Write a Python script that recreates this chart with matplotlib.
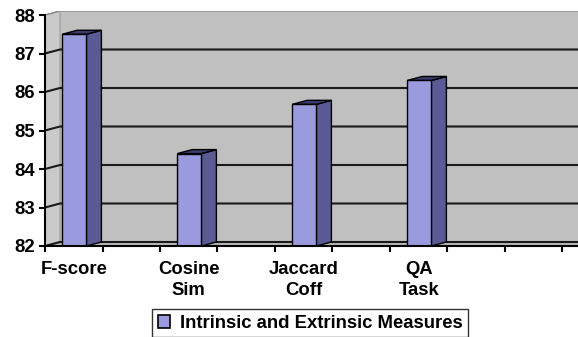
import numpy as np
import matplotlib
matplotlib.use("Agg")
import matplotlib.pyplot as plt
from matplotlib.patches import Polygon, Patch

plt.rcParams['font.family'] = ['Liberation Sans', 'DejaVu Sans']

# Data
categories = ["F-score", "Cosine\nSim", "Jaccard\nCoff", "QA\nTask"]
values = [87.5, 84.4, 85.68, 86.3]
series_name = "Intrinsic and Extrinsic Measures"
y_ticks = [82, 83, 84, 85, 86, 87, 88]

# Layout / style
W, H, DPI = 578, 337, 100
n_slots = 9            # category slots on the axis (labels on every other slot)
slot_step = 2
bar_width = 0.42
depth_px = (15, 4)     # 3-D depth offset in pixels (right, up)
ymin, ymax = 82, 88
fs = 13.3

front_col = "#9a9ade"
side_col = "#5a5a94"
top_col = "#3c3c70"
wall_col = "#c0c0c0"
side_wall_col = "#cacaca"
floor_col = "#b8b8b8"
grid_col = "#1a1a1a"

fig = plt.figure(figsize=(W / DPI, H / DPI), dpi=DPI)
ax_l, ax_r, ax_b, ax_t = 45, 578, 246, 11
ax = fig.add_axes([ax_l / W, 1 - ax_b / H, (ax_r - ax_l) / W, (ax_b - ax_t) / H])

px_per_x = 57.5
px_per_y = (ax_b - ax_t) / (ymax - ymin + depth_px[1] / 38.5)
xmax = (ax_r - ax_l) / px_per_x
dx = depth_px[0] / px_per_x
dy = depth_px[1] / px_per_y
ax.set_xlim(0, xmax)
ax.set_ylim(ymin, ymax + dy)
ax.set_facecolor("white")

# Walls and floor
ax.add_patch(Polygon([(dx, ymin + dy), (xmax + 1, ymin + dy), (xmax + 1, ymax + dy), (dx, ymax + dy)],
                     closed=True, fc=wall_col, ec="none", zorder=0))
ax.add_patch(Polygon([(0, ymin), (dx, ymin + dy), (dx, ymax + dy), (0, ymax)],
                     closed=True, fc=side_wall_col, ec="#9a9a9a", lw=0.8, zorder=0.5))
ax.add_patch(Polygon([(0, ymin), (xmax + 1, ymin), (xmax + 1 + dx, ymin + dy), (dx, ymin + dy)],
                     closed=True, fc=floor_col, ec="none", zorder=0.5))

# Gridlines on the back wall, continued across the side wall
for v in y_ticks:
    ax.plot([0, dx, xmax + 1], [v, v + dy, v + dy], color=grid_col if v != ymax else "#8a8a8a",
            lw=1.5 if v != ymax else 1.0, zorder=1, solid_joinstyle="miter")

# 3-D columns
for i, (cat, val) in enumerate(zip(categories, values)):
    xc = i * slot_step + 0.51
    x0, x1 = xc - bar_width / 2, xc + bar_width / 2
    ax.bar(xc, val - ymin, bottom=ymin, width=bar_width, color=front_col,
           edgecolor="black", linewidth=1.0, zorder=3)
    ax.add_patch(Polygon([(x1, ymin), (x1 + dx, ymin + dy), (x1 + dx, val + dy), (x1, val)],
                         closed=True, fc=side_col, ec="black", lw=1.0, zorder=2.9))
    ax.add_patch(Polygon([(x0, val), (x1, val), (x1 + dx, val + dy), (x0 + dx, val + dy)],
                         closed=True, fc=top_col, ec="black", lw=1.0, zorder=2.9))

# Axes
for s in ["top", "right"]:
    ax.spines[s].set_visible(False)
ax.spines["left"].set_bounds(ymin, ymax)
ax.spines["left"].set_linewidth(1.5)
ax.spines["bottom"].set_linewidth(1.5)
ax.spines["left"].set_zorder(5)
ax.spines["bottom"].set_zorder(5)

ax.set_yticks(y_ticks)
ax.set_yticklabels([str(t) for t in y_ticks], fontsize=fs, fontweight="bold")
ax.tick_params(axis="y", direction="out", length=4, width=1.5, pad=3)

ax.set_xticks(np.arange(0, n_slots + 1))
ax.set_xticklabels([])
ax.tick_params(axis="x", which="major", direction="out", length=4, width=1.5)
ax.set_xticks([i * slot_step + 0.5 for i in range(len(categories))], minor=True)
ax.set_xticklabels(categories, minor=True, fontsize=fs, fontweight="bold",
                   linespacing=1.3, va="top")
ax.tick_params(axis="x", which="minor", length=0, pad=11)

# Legend
leg = fig.legend(handles=[Patch(facecolor=front_col, edgecolor="black", linewidth=1.2)],
                 labels=[series_name], loc="center", bbox_to_anchor=(310 / W, 1 - 323 / H),
                 frameon=True, fancybox=False, handlelength=0.7, handleheight=0.7,
                 handletextpad=0.5, borderpad=0.3, borderaxespad=0,
                 prop={"size": fs, "weight": "bold"})
leg.get_frame().set_edgecolor("black")
leg.get_frame().set_linewidth(1.0)

fig.savefig("out.png", dpi=DPI)
